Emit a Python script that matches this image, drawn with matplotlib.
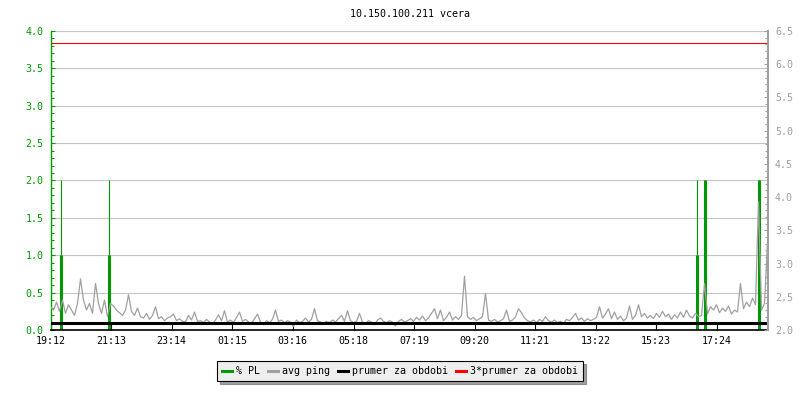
import matplotlib
matplotlib.use("Agg")
import matplotlib.pyplot as plt
import numpy as np
from matplotlib.lines import Line2D
from matplotlib.ticker import MultipleLocator

# popisky casove osy (minuty od 19:12)
tick_labels = ["19:12", "21:13", "23:14", "01:15", "03:16", "05:18",
               "07:19", "09:20", "11:21", "13:22", "15:23", "17:24"]
tick_min = [0, 121, 242, 363, 484, 606, 727, 848, 969, 1090, 1211, 1332]

# avg ping [ms], vzorek kazdych 6 minut
ping_step = 6
avg_ping = [
    2.35, 2.30, 2.42, 2.28, 2.45, 2.25, 2.38, 2.30, 2.22, 2.40, 2.77, 2.45, 2.30, 2.40, 2.25, 2.70, 2.40, 2.25, 2.45, 2.20,
    2.40, 2.36, 2.30, 2.26, 2.22, 2.30, 2.53, 2.28, 2.22, 2.33, 2.20, 2.18, 2.25, 2.16, 2.22, 2.35, 2.17, 2.20, 2.14, 2.18,
    2.20, 2.24, 2.14, 2.17, 2.13, 2.12, 2.22, 2.15, 2.27, 2.13, 2.14, 2.11, 2.16, 2.12, 2.09, 2.15, 2.23, 2.14, 2.29, 2.12,
    2.15, 2.11, 2.19, 2.27, 2.13, 2.16, 2.12, 2.10, 2.17, 2.24, 2.12, 2.08, 2.14, 2.11, 2.16, 2.30, 2.13, 2.15, 2.11, 2.14,
    2.12, 2.05, 2.15, 2.11, 2.13, 2.18, 2.12, 2.16, 2.32, 2.14, 2.12, 2.10, 2.13, 2.11, 2.15, 2.12, 2.17, 2.22, 2.13, 2.29,
    2.14, 2.11, 2.13, 2.25, 2.12, 2.10, 2.14, 2.12, 2.08, 2.15, 2.18, 2.13, 2.11, 2.14, 2.12, 2.06, 2.13, 2.16, 2.12, 2.14,
    2.17, 2.13, 2.19, 2.15, 2.21, 2.14, 2.18, 2.25, 2.32, 2.17, 2.30, 2.14, 2.19, 2.27, 2.15, 2.20, 2.16, 2.22, 2.81, 2.20,
    2.16, 2.19, 2.14, 2.17, 2.20, 2.55, 2.15, 2.13, 2.16, 2.12, 2.14, 2.17, 2.30, 2.13, 2.15, 2.20, 2.32, 2.26, 2.18, 2.14,
    2.12, 2.15, 2.11, 2.16, 2.13, 2.20, 2.14, 2.12, 2.15, 2.11, 2.13, 2.10, 2.16, 2.14, 2.19, 2.25, 2.15, 2.18, 2.13, 2.17,
    2.14, 2.16, 2.19, 2.35, 2.18, 2.24, 2.32, 2.17, 2.27, 2.16, 2.21, 2.14, 2.18, 2.36, 2.16, 2.22, 2.38, 2.20, 2.25, 2.18,
    2.22, 2.17, 2.25, 2.19, 2.28, 2.20, 2.24, 2.16, 2.23, 2.18, 2.27, 2.19, 2.30, 2.21, 2.18, 2.25, 2.20, 2.22, 2.70, 2.24,
    2.35, 2.30, 2.38, 2.26, 2.33, 2.28, 2.36, 2.24, 2.30, 2.27, 2.70, 2.32, 2.42, 2.35, 2.48, 2.38, 3.93, 2.30, 2.40, 3.31,
]
ping_min = np.arange(len(avg_ping)) * ping_step

# packet loss [%]
pl_min = [21, 117, 1293, 1309, 1417, 1434]
pl_peak = [2.0, 2.0, 2.0, 2.0, 2.0, 4.0]
pl_hold = [1.0, 1.0, 1.0, 2.0, 2.0, 0.0]

prumer = 2.107

green = "#009a00"
grey = "#a0a0a0"
plt.rcParams['font.family'] = ['DejaVu Sans Mono']
plt.rcParams['font.size'] = 7.2

fig = plt.figure(figsize=(8, 4), dpi=100)
ax = fig.add_axes([50.5 / 800, 70 / 400, 717.5 / 800, 299 / 400])
ax2 = ax.twinx()

ax.set_xlim(0, 1435)
ax.set_ylim(0, 4.0)
ax2.set_ylim(2.0, 6.5)

ax.grid(axis='y', color='#c4c4c4', linewidth=0.8)
ax.set_axisbelow(True)

ax.vlines(pl_min, 0, pl_peak, color=green, linewidth=0.8)
ax.vlines(pl_min, 0, pl_hold, color=green, linewidth=2.2)

ax2.plot(ping_min, avg_ping, color=grey, linewidth=0.9)
ax2.axhline(prumer, color='black', linewidth=2.2)
ax2.axhline(3 * prumer, color='red', linewidth=0.8)

ax.set_xticks(tick_min)
ax.set_xticklabels(tick_labels)
ax.tick_params(axis='x', direction='in', length=4.5, width=0.8, color='black', pad=4)

ax.yaxis.set_major_locator(MultipleLocator(0.5))
ax.yaxis.set_minor_locator(MultipleLocator(0.1))
ax.yaxis.set_major_formatter(matplotlib.ticker.FormatStrFormatter('%.1f'))
ax.tick_params(axis='y', which='major', direction='in', length=3.2, width=0.8, colors=green, pad=5)
ax.tick_params(axis='y', which='minor', direction='in', length=2.3, width=0.8, colors=green)

ax2.yaxis.set_major_locator(MultipleLocator(0.5))
ax2.yaxis.set_minor_locator(MultipleLocator(0.1))
ax2.yaxis.set_major_formatter(matplotlib.ticker.FormatStrFormatter('%.1f'))
ax2.tick_params(axis='y', which='major', direction='in', length=3.2, width=0.8, colors=grey, pad=5)
ax2.tick_params(axis='y', which='minor', direction='in', length=2.3, width=0.8, colors=grey)

for a in (ax, ax2):
    a.spines['top'].set_visible(False)
ax.spines['right'].set_visible(False)
ax.spines['left'].set_color(green)
ax.spines['left'].set_linewidth(1.0)
ax.spines['bottom'].set_color('black')
ax.spines['bottom'].set_linewidth(1.2)
ax2.spines['left'].set_visible(False)
ax2.spines['bottom'].set_visible(False)
ax2.spines['right'].set_color(grey)
ax2.spines['right'].set_linewidth(1.5)

fig.text(0.512, 1 - 14 / 400, "10.150.100.211 vcera", ha='center', va='center')

handles = [Line2D([], [], color=green, linewidth=2.2),
           Line2D([], [], color=grey, linewidth=2.2),
           Line2D([], [], color='black', linewidth=2.2),
           Line2D([], [], color='red', linewidth=2.2)]
labels = ["% PL", "avg ping", "prumer za obdobi", "3*prumer za obdobi"]
leg = fig.legend(handles, labels, loc='center', bbox_to_anchor=(0.5, 1 - 371 / 400),
                 ncol=4, frameon=True, fancybox=False, shadow=True,
                 edgecolor='black', facecolor='#eeeeee', framealpha=1,
                 handlelength=1.0, handletextpad=0.4, columnspacing=0.8,
                 borderpad=0.5)
leg.get_frame().set_linewidth(0.8)

fig.savefig("out.png", dpi=100)
